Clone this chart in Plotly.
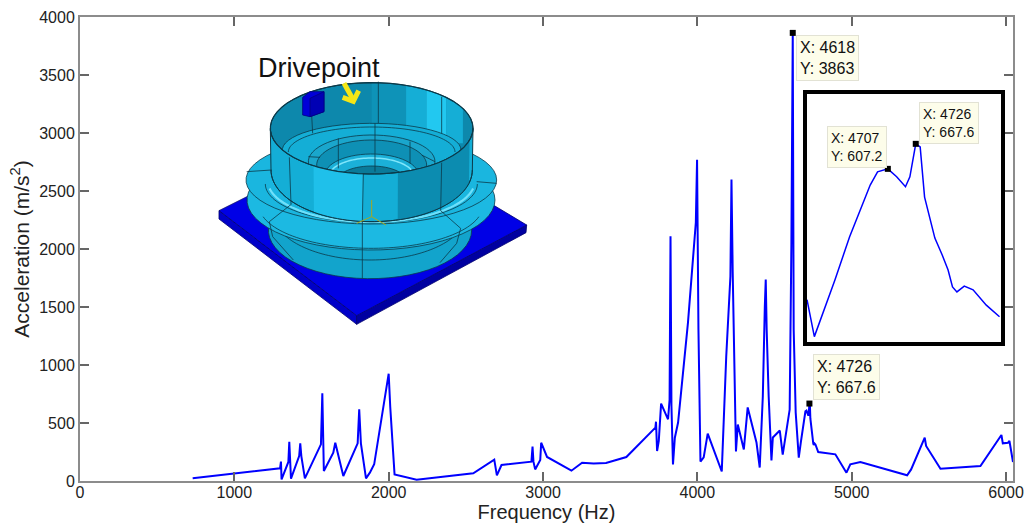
import numpy as np
import plotly.graph_objects as go

# ---------- data ----------
freq_low = [730, 1296, 1302, 1306, 1350, 1356, 1367, 1420, 1427, 1434, 1457, 1561, 1570, 1574, 1580, 1641, 1654,
            1706, 1799, 1809, 1820, 1853, 1878, 1906, 1975, 2000, 2010, 2038, 2181, 2548, 2684, 2690, 2701, 2731,
            2925, 2932, 2938, 2949, 2982, 2988, 3026, 3184, 3253, 3328, 3408, 3540, 3728, 3732, 3739, 3750, 3765, 3810]
acc_low = [23, 109, 167, 14, 164, 339, 20, 215, 325, 215, 23, 316, 756, 480, 86, 244, 330,
           43, 325, 618, 325, 23, 72, 144, 720, 925, 640, 57, 11, 66, 184, 120, 49, 138,
           167, 296, 167, 100, 181, 330, 207, 89, 158, 150, 155, 207, 460, 511, 259, 345, 667, 532]
freq_mid = [3820, 3826, 3832, 3842, 3854, 3875, 3897, 3939, 3990, 3998, 4007, 4012, 4020, 4041, 4067, 4158, 4187,
            4214, 4221, 4229, 4242, 4250, 4262, 4301, 4326, 4383, 4404, 4424, 4437, 4443, 4449, 4462, 4480, 4489,
            4534, 4553, 4598, 4609, 4618, 4624, 4637, 4652]
acc_mid = [700, 2110, 650, 142, 373, 504, 789, 1364, 2228, 2770, 1306, 729, 168, 203, 409, 82, 1073,
           1763, 2600, 1797, 729, 254, 487, 272, 634, 332, 116, 729, 1504, 1737, 1306, 729, 177, 375,
           435, 228, 616, 2022, 3863, 1306, 590, 291]
freq_peak = [4657, 4671, 4681, 4695, 4700, 4707, 4713, 4719, 4722, 4726, 4729, 4732, 4736, 4739, 4744, 4748,
             4751, 4754, 4759, 4765, 4774, 4783]
acc_peak = [202, 339, 443, 568, 600, 607.2, 588, 564, 588, 667.6, 660, 539, 484, 440, 399, 363,
            322, 310, 324, 315, 278, 250]
freq_high = [4894, 4966, 4991, 5056, 5359, 5385, 5473, 5482, 5575, 5834, 5970, 5979, 6013, 6022, 6045]
acc_high = [230, 72, 144, 164, 49, 100, 373, 302, 106, 129, 397, 325, 330, 345, 164]

freq = freq_low + freq_mid + freq_peak + freq_high
acc = acc_low + acc_mid + acc_peak + acc_high

x_ticks = [0, 1000, 2000, 3000, 4000, 5000, 6000]
y_ticks = [0, 500, 1000, 1500, 2000, 2500, 3000, 3500, 4000]
tip_x_main = [4618, 4726]
tip_y_main = [3863, 667.6]
tip_x_inset = [4707, 4726]
tip_y_inset = [607.2, 667.6]

W, H = 1027, 527
L, R, T, B = 80, 1013, 17, 481
FONT = "Liberation Sans"

def px(x): return (x - L) / (R - L)
def py(y): return (B - y) / (B - T)
def zx(x): return px(200 + x / 3)
def zy(y): return py(40 + y / 3)

shapes = []
def poly(pts, fill=None, line="#0b3a4a", lw=0.8, close=True):
    d = "M " + " L ".join(f"{zx(a):.5f} {zy(b):.5f}" for a, b in pts) + (" Z" if close else "")
    s = dict(type="path", path=d, xref="paper", yref="paper", line=dict(color=line, width=lw))
    if fill: s["fillcolor"] = fill
    else: s["fillcolor"] = "rgba(0,0,0,0)"
    shapes.append(s)

def arc_pts(cx, cy, rx, ry, a0=0, a1=360, n=60):
    t = np.radians(np.linspace(a0, a1, n))
    return [(cx + rx * np.cos(v), cy + ry * np.sin(v)) for v in t]

def ell(cx, cy, rx, ry, fill, line="#0b3a4a", lw=0.8):
    poly(arc_pts(cx, cy, rx, ry), fill, line, lw)

def arc(cx, cy, rx, ry, a0, a1, line="#0b3a4a", lw=0.8):
    poly(arc_pts(cx, cy, rx, ry, a0, a1), None, line, lw, close=False)

LIGHT, MID, DARK, DEEP = "#22c6f0", "#14aed6", "#0c8cb0", "#0a7391"

# base plate
poly([(57, 512), (470, 827), (470, 853), (57, 537)], "#0000c8", "#000070")
poly([(470, 827), (980, 555), (978, 578), (470, 853)], "#0000a0", "#000070")
poly([(57, 512), (520, 280), (980, 555), (470, 827)], "#0000e6", "#000070")

# lower body and flange
ell(510, 570, 305, 146, "#12a4cc")
arc(510, 520, 290, 140, 25, 155)
ell(513, 480, 372, 150, "#1cb9e2")
arc(513, 497, 335, 128, 15, 165)
ell(514, 420, 376, 132, "#1ab6df")
arc(514, 432, 318, 116, 0, 180, "#0b3a4a")
arc(514, 424, 310, 122, 10, 170, "#6fe0fa", 2.2)

# cylinder interior: back wall with shaded zones
ell(515, 265, 304, 137, "#0d88ac", "#0b3a4a", 1)
def back_zone(a0, a1, col):
    pts = arc_pts(515, 265, 302, 135, a0, a1, 20)
    poly(pts + [(pts[-1][0], 310), (pts[0][0], 310)], col, col, 0)
back_zone(270, 290, "#0e93b8")
back_zone(290, 303, "#15aed6")
back_zone(303, 318, "#22c8f0")
back_zone(318, 335, "#15aed6")
ell(515, 330, 268, 80, MID)
arc(515, 336, 250, 75, 180, 360)
ell(515, 365, 190, 80, "#1aa6cc")
ell(515, 375, 165, 75, "#0e90b5")
ell(515, 405, 140, 63, "#1bb0d8")
arc(515, 410, 128, 56, 180, 360, "#7fe6fb", 1.5)
ell(515, 425, 105, 47, "#0a7a99")
for s in [[(535, 125), (535, 250)], [(725, 170), (725, 280)], [(335, 225), (338, 280)],
          [(525, 250), (525, 395)], [(415, 295), (415, 385)], [(630, 305), (630, 370)],
          [(325, 350), (360, 352)], [(665, 345), (705, 365)]]:
    poly(s, None, "#0b3a4a", 0.8, close=False)

# front wall crescent
front_low = arc_pts(515, 390, 302, 155, 0, 180)
front_up = arc_pts(515, 265, 304, 137, 180, 0)
poly(front_low + front_up, MID, "#0b3a4a", 1)
poly(arc_pts(515, 390, 302, 155, 95, 125) + arc_pts(515, 265, 304, 137, 125, 95), "#1fc0ea", "#1fc0ea", 0)
poly(arc_pts(515, 390, 302, 155, 15, 75) + arc_pts(515, 265, 304, 137, 75, 15), DARK, DARK, 0)
arc(515, 265, 304, 137, 0, 360, "#0b3a4a", 1.2)
arc(515, 390, 302, 155, 0, 180, "#0b3a4a", 1)

# mesh seams
seams = [[(268, 352), (273, 492)], [(490, 400), (487, 545)], [(725, 368), (722, 512)],
         [(487, 545), (487, 715)], [(140, 395), (215, 390)], [(830, 425), (890, 430)],
         [(208, 545), (275, 492)], [(722, 512), (782, 565)], [(208, 545), (218, 590), (280, 660)],
         [(782, 565), (770, 610), (720, 668)]]
for s in seams:
    poly(s, None, "#0b3a4a", 0.8, close=False)

# attached mass and arrow
poly([(308, 172), (330, 155), (372, 155), (372, 215), (330, 230), (308, 225)], "#0000d8", "#000080")
poly([(330, 175), (372, 155), (372, 215), (330, 230)], "#0000b4", "#000080")
poly([(432, 130), (458, 176)], None, "#f5e616", 5, close=False)
poly([(428, 172), (460, 184), (476, 152)], None, "#f5e616", 5, close=False)
# triad
poly([(515, 480), (515, 530), (470, 550)], None, "#a8a820", 1, close=False)
poly([(515, 530), (558, 555)], None, "#a8a820", 1, close=False)

# ---------- figure ----------
fig = go.Figure()
fig.add_trace(go.Scatter(x=freq, y=acc, mode="lines", line=dict(color="#0000ff", width=2), showlegend=False,
                         xaxis="x", yaxis="y"))
fig.add_trace(go.Scatter(x=tip_x_main, y=tip_y_main, mode="markers", showlegend=False,
                         marker=dict(symbol="square", size=6, color="black"), xaxis="x", yaxis="y"))
fig.add_trace(go.Scatter(x=freq_mid[-1:] + freq_peak, y=acc_mid[-1:] + acc_peak, mode="lines", showlegend=False,
                         line=dict(color="#0000ff", width=1.5), xaxis="x2", yaxis="y2"))
fig.add_trace(go.Scatter(x=tip_x_inset, y=tip_y_inset, mode="markers", showlegend=False, cliponaxis=False,
                         marker=dict(symbol="square", size=6, color="black"), xaxis="x2", yaxis="y2"))

def tip(text, x0, y0, size, pad=3):
    return dict(text=text, x=px(x0), y=py(y0), xref="paper", yref="paper", xanchor="left", yanchor="top",
                showarrow=False, align="left", bgcolor="#fdfdea", bordercolor="#e2e2d4", borderwidth=1,
                borderpad=pad, font=dict(family=FONT, size=size, color="#111111"))

annotations = [
    tip("X: 4618<br>Y: 3863", 796, 35, 16),
    tip("X: 4726<br>Y: 667.6", 813, 354, 16),
    tip("X: 4707<br>Y: 607.2", 827, 126, 14),
    tip("X: 4726<br>Y: 667.6", 919, 102, 14),
    dict(text="Drivepoint", x=px(256), y=py(68), xref="paper", yref="paper", xanchor="left", yanchor="middle",
         showarrow=False, font=dict(family=FONT, size=27, color="#111111")),
]

axis_common = dict(showgrid=False, zeroline=False, showline=True, linecolor="#8c8c8c", linewidth=2, mirror="ticks",
                   ticks="inside", ticklen=9, tickcolor="#666666", tickwidth=1.5, automargin=False,
                   tickfont=dict(family=FONT, size=16, color="#222222"))

fig.update_layout(
    width=W, height=H, autosize=False, margin=dict(l=L, r=W - R, t=T, b=H - B),
    paper_bgcolor="white", plot_bgcolor="white", showlegend=False,
    xaxis=dict(range=[0, 6045], tickvals=x_ticks, ticktext=[str(v) for v in x_ticks], ticklabelstandoff=-4,
               title=dict(text="Frequency (Hz)", font=dict(family=FONT, size=20, color="#222222"), standoff=0),
               **axis_common),
    yaxis=dict(range=[0, 4000], tickvals=y_ticks, ticktext=[str(v) for v in y_ticks],
               title=dict(text="Acceleration (m/s<sup>2</sup>)", font=dict(family=FONT, size=21, color="#222222"), standoff=4),
               **axis_common),
    xaxis2=dict(domain=[px(807), px(1001)], range=[4652, 4784], anchor="y2", showticklabels=False, ticks="",
                showgrid=False, zeroline=False, showline=True, mirror=True, linecolor="black", linewidth=4),
    yaxis2=dict(domain=[py(342), py(94)], range=[189, 788], anchor="x2", showticklabels=False, ticks="",
                showgrid=False, zeroline=False, showline=True, mirror=True, linecolor="black", linewidth=4),
    shapes=shapes, annotations=annotations,
)

fig.write_html("out.html", config=dict(displayModeBar=False),
               post_script="document.body.style.margin='0';document.body.style.overflow='hidden';")
